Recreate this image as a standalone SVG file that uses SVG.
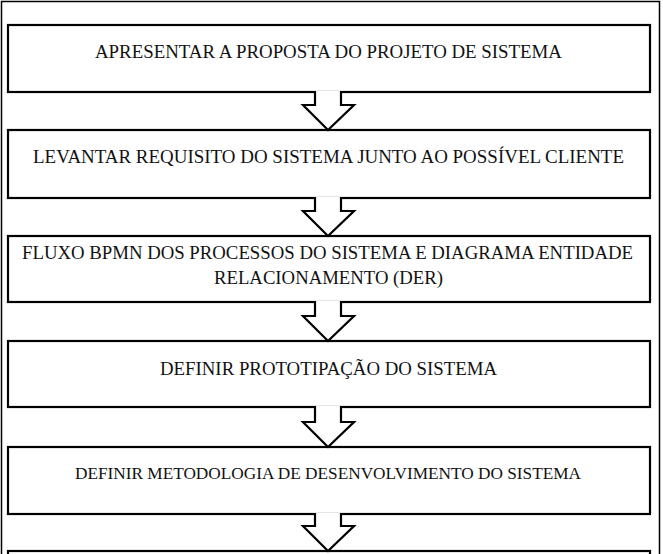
<svg xmlns="http://www.w3.org/2000/svg" width="663" height="554" viewBox="0 0 663 554">
<style>
.frame{fill:none;stroke:#000;stroke-width:1.5}
.box{fill:#fff;stroke:#000;stroke-width:2.2}
.arr{fill:#fff;stroke:#000;stroke-width:2.2;stroke-linejoin:miter}
.t{fill:#111;text-anchor:middle}
</style>
<rect width="663" height="554" fill="#fff"/>
<rect class="frame" x="1.5" y="1.5" width="658" height="570"/>
<g id="n1"><rect class="box" x="8" y="25" width="642" height="67"/>
<text class="t" font-family="Liberation Serif" font-size="18.5" x="328.5" y="58" textLength="467" lengthAdjust="spacingAndGlyphs">APRESENTAR A PROPOSTA DO PROJETO DE SISTEMA</text></g>
<g id="n2"><rect class="box" x="8" y="130" width="642" height="68"/>
<text class="t" font-family="Liberation Serif" font-size="18.5" x="328.5" y="163" textLength="591" lengthAdjust="spacingAndGlyphs">LEVANTAR REQUISITO DO SISTEMA JUNTO AO POSSÍVEL CLIENTE</text></g>
<g id="n3"><rect class="box" x="8" y="236" width="642" height="66"/>
<text class="t" font-family="Liberation Serif" font-size="18.5" x="327.5" y="259" textLength="611" lengthAdjust="spacingAndGlyphs">FLUXO BPMN DOS PROCESSOS DO SISTEMA E DIAGRAMA ENTIDADE</text>
<text class="t" font-family="Liberation Serif" font-size="18.5" x="328.5" y="284" textLength="229" lengthAdjust="spacingAndGlyphs">RELACIONAMENTO (DER)</text></g>
<g id="n4"><rect class="box" x="8" y="341" width="642" height="66"/>
<text class="t" font-family="Liberation Serif" font-size="18.5" x="328.5" y="375" textLength="337" lengthAdjust="spacingAndGlyphs">DEFINIR PROTOTIPAÇÃO DO SISTEMA</text></g>
<g id="n5"><rect class="box" x="8" y="447" width="642" height="67"/>
<text class="t" font-family="Liberation Serif" font-size="16.5" x="328" y="479" textLength="506" lengthAdjust="spacingAndGlyphs">DEFINIR METODOLOGIA DE DESENVOLVIMENTO DO SISTEMA</text></g>
<g id="n6"><rect class="box" x="8" y="551" width="642" height="30"/></g>
<g id="connectors">
<path class="arr" d="M315,91 L315,105 L303,105 L328,130 L354,105 L341,105 L341,91"/>
<path class="arr" d="M315,197 L315,211 L303,211 L328,236 L354,211 L341,211 L341,197"/>
<path class="arr" d="M315,301 L315,316 L303,316 L328,341 L354,316 L341,316 L341,301"/>
<path class="arr" d="M315,406 L315,422 L303,422 L328,447 L354,422 L341,422 L341,406"/>
<path class="arr" d="M315,513 L315,526 L303,526 L328,551 L354,526 L341,526 L341,513"/>
</g>
</svg>
